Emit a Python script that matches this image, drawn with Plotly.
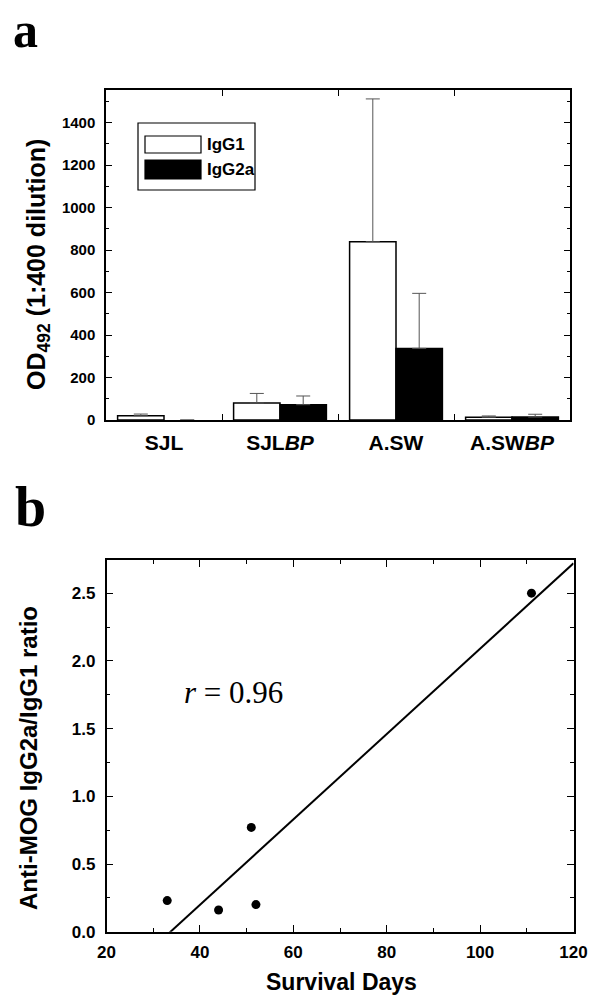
import plotly.graph_objects as go
import numpy as np

# ---------------- data ----------------
categories = ["SJL", "SJL<i>BP</i>", "A.SW", "A.SW<i>BP</i>"]
igg1 = [20, 80, 839, 13]
igg1_err = [8, 45, 672, 6]
igg2a = [0, 72, 337, 14]
igg2a_err = [0, 41, 259, 13]

days = [33, 44, 51, 52, 111]
ratio = [0.23, 0.16, 0.77, 0.20, 2.50]

W, H = 591, 995


def px(x):
    return x / W


def py(y):
    return 1 - y / H


SANS = "Liberation Sans, Arial, sans-serif"
SERIF = "Liberation Serif, Times New Roman, serif"

fig = go.Figure()

fig.add_trace(go.Bar(
    x=categories, y=igg1, name="IgG1",
    marker=dict(color="white", line=dict(color="black",
                                         width=[1.5 if v > 0 else 0 for v in igg1])),
    error_y=dict(type="data", array=igg1_err, arrayminus=[0] * len(igg1),
                 symmetric=False, color="#555", thickness=1, width=7),
    xaxis="x", yaxis="y", showlegend=False,
))
fig.add_trace(go.Bar(
    x=categories, y=igg2a, name="IgG2a",
    marker=dict(color="black", line=dict(color="black",
                                         width=[1.5 if v > 0 else 0 for v in igg2a])),
    error_y=dict(type="data", array=igg2a_err, arrayminus=[0] * len(igg2a),
                 symmetric=False, color="#555", thickness=1, width=7),
    xaxis="x", yaxis="y", showlegend=False,
))

# scatter + regression
slope, intercept = np.polyfit(days, ratio, 1)
r = np.corrcoef(days, ratio)[0, 1]
fit_x = [20, 120]
fit_y = [slope * v + intercept for v in fit_x]

fig.add_trace(go.Scatter(
    x=fit_x, y=fit_y, mode="lines", line=dict(color="black", width=2),
    xaxis="x2", yaxis="y2", showlegend=False, cliponaxis=True,
))
fig.add_trace(go.Scatter(
    x=days, y=ratio, mode="markers",
    marker=dict(color="black", size=9, symbol="circle"),
    xaxis="x2", yaxis="y2", showlegend=False,
))

axis_common = dict(
    showline=True, linecolor="black", linewidth=1.5, mirror="ticks",
    ticks="inside", tickcolor="black", showgrid=False, zeroline=False,
    automargin=False,
)

fig.update_layout(
    width=W, height=H,
    margin=dict(l=0, r=0, t=0, b=0, pad=0),
    paper_bgcolor="white", plot_bgcolor="white",
    barmode="group", bargap=0.2, bargroupgap=0,
    xaxis=dict(
        domain=[px(106), px(570)], anchor="y",
        type="category", range=[-0.5, 3.5], tickson="boundaries",
        ticklen=6, tickwidth=1.2,
        tickfont=dict(family=SANS, size=21, color="black", weight="bold"),
        ticklabelstandoff=3,
        **axis_common,
    ),
    yaxis=dict(
        domain=[py(420), py(90)], anchor="x",
        range=[0, 1553], tickvals=[0, 200, 400, 600, 800, 1000, 1200, 1400],
        ticklen=6, tickwidth=1.2,
        minor=dict(dtick=100, ticks="inside", ticklen=3, tickcolor="black"),
        tickfont=dict(family=SANS, size=15, color="black", weight="bold"),
        ticklabelstandoff=6,
        **axis_common,
    ),
    xaxis2=dict(
        domain=[px(106.5), px(573.5)], anchor="y2",
        range=[20, 120], dtick=20, tick0=20,
        ticklen=7, tickwidth=1.2,
        minor=dict(dtick=10, ticks="inside", ticklen=4, tickcolor="black"),
        tickfont=dict(family=SANS, size=17, color="black", weight="bold"),
        ticklabelstandoff=4,
        **axis_common,
    ),
    yaxis2=dict(
        domain=[py(931.7), py(560)], anchor="x2",
        range=[0, 2.745], dtick=0.5, tick0=0, tickformat=".1f",
        ticklen=7, tickwidth=1.2,
        minor=dict(dtick=0.25, ticks="inside", ticklen=4, tickcolor="black"),
        tickfont=dict(family=SANS, size=17, color="black", weight="bold"),
        ticklabelstandoff=6,
        **axis_common,
    ),
)

# legend drawn by hand (wide swatches as in the original)
shapes = [
    dict(type="rect", xref="paper", yref="paper", x0=px(138), x1=px(255), y0=py(190), y1=py(123),
         line=dict(color="black", width=1.2), fillcolor="white", layer="above"),
    dict(type="rect", xref="paper", yref="paper", x0=px(145), x1=px(201), y0=py(153), y1=py(136),
         line=dict(color="black", width=1.2), fillcolor="white", layer="above"),
    dict(type="rect", xref="paper", yref="paper", x0=px(145), x1=px(201), y0=py(179), y1=py(160),
         line=dict(color="black", width=1.2), fillcolor="black", layer="above"),
]
fig.update_layout(shapes=shapes)

ann = [
    dict(text="IgG1", x=px(205), y=py(145), xanchor="left", yanchor="middle",
         font=dict(family=SANS, size=17, color="black", weight="bold")),
    dict(text="IgG2a", x=px(205), y=py(170), xanchor="left", yanchor="middle",
         font=dict(family=SANS, size=17, color="black", weight="bold")),
    dict(text="a", x=px(11), y=py(0), xanchor="left", yanchor="top",
         font=dict(family=SERIF, size=50, color="black", weight="bold")),
    dict(text="b", x=px(13), y=py(507), xanchor="left", yanchor="middle",
         font=dict(family=SERIF, size=56, color="black", weight="bold")),
    dict(text="OD<sub>492</sub> (1:400 dilution)", x=px(38), y=py(265), textangle=-90,
         xanchor="center", yanchor="middle",
         font=dict(family=SANS, size=25, color="black", weight="bold")),
    dict(text="Anti-MOG IgG2a/IgG1 ratio", x=px(28), y=py(758), textangle=-90,
         xanchor="center", yanchor="middle",
         font=dict(family=SANS, size=24, color="black", weight="bold")),
    dict(text="Survival Days", x=px(341), y=py(982), xanchor="center", yanchor="middle",
         font=dict(family=SANS, size=23, color="black", weight="bold")),
    dict(text=f"<i>r</i> = {r:.2f}", x=47.3, y=1.77, xref="x2", yref="y2",
         xanchor="center", yanchor="middle",
         font=dict(family=SERIF, size=31, color="black")),
]
for a in ann:
    a.setdefault("xref", "paper")
    a.setdefault("yref", "paper")
    a["showarrow"] = False
fig.update_layout(annotations=ann)

fig.write_html(
    "out.html",
    config={"displayModeBar": False},
    post_script="document.body.style.margin='0';document.body.style.padding='0';",
)
